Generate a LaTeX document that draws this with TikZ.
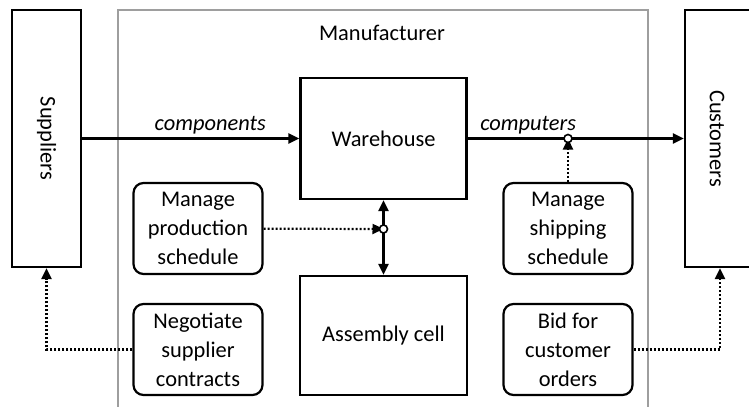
\documentclass[tikz,border=0pt]{standalone}
\usepackage{fontspec}
\setmainfont{Carlito}
\usetikzlibrary{arrows.meta}
\begin{document}
\begin{tikzpicture}[x=1bp, y=-1bp, line width=2.2bp,
    font=\fontsize{22.5}{29}\selectfont,
    block/.style={draw=black, rectangle, inner sep=0pt},
    task/.style={draw=black, rectangle, rounded corners=10bp, align=center,
      minimum width=129bp, minimum height=91bp, inner sep=0pt},
    flow/.style={-{Triangle[length=11bp,width=10bp]}},
    ctrl/.style={dash pattern=on 2bp off 2bp, -{Triangle[length=11bp,width=10bp]}},
    joint/.style={circle, draw=black, fill=white, line width=1.6bp, inner sep=0pt, minimum size=8bp}]
    \clip (0,0) rectangle (749,406);
    % manufacturer frame, open at the bottom
    \draw[draw=black!38, line width=2.2bp] (118,10) rectangle (648,430);
    \draw (382,33) node (mfr) {Manufacturer};

    \draw (46.5,138.5) node[block, minimum width=69bp, minimum height=257bp] (sup) {};
    \draw (sup.center) node[rotate=-90] {Suppliers};
    \draw (720,138.5) node[block, minimum width=70bp, minimum height=257bp] (cus) {};
    \draw (717,138.5) node[rotate=-90] {Customers};

    \draw (383.5,138.5) node[block, minimum width=166bp, minimum height=121bp] (wh) {Warehouse};
    \draw (383.5,335.5) node[block, minimum width=167bp, minimum height=119bp] (asm) {Assembly cell};

    \draw (198,228.5) node[task] (prod) {Manage\\production\\schedule};
    \draw (198,349.5) node[task] (nego) {Negotiate\\supplier\\contracts};
    \draw (568,228.5) node[task] (ship) {Manage\\shipping\\schedule};
    \draw (568,349.5) node[task] (bid) {Bid for\\customer\\orders};

    \coordinate (jprod) at (383.5,229);
    \coordinate (jship) at (568,138.5);

    \draw[flow] (sup) -- node[pos=0.59, above, font=\fontsize{22.5}{29}\selectfont\itshape] {components} (wh);
    \draw[flow] (wh) -- node[pos=0.28, above, font=\fontsize{22.5}{29}\selectfont\itshape] {computers} (cus);
    \draw[{Triangle[length=11bp,width=10bp]}-{Triangle[length=11bp,width=10bp]}] (wh) -- (asm);
    \draw[ctrl] (prod) -- (jprod);
    \draw[ctrl] (ship) -- (jship);
    \draw[ctrl] (nego.west) -| (sup.south);
    \draw[ctrl] (bid.east) -| (cus.south);

    \node[joint] at (jprod) {};
    \node[joint] at (jship) {};
\end{tikzpicture}
\end{document}
